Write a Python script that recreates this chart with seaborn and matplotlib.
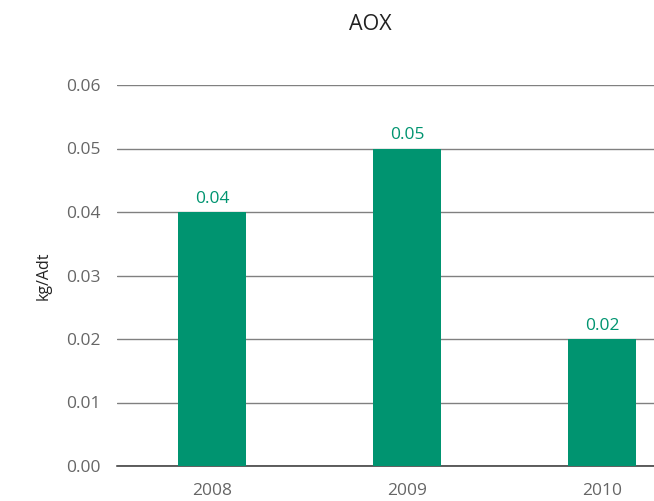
import matplotlib
matplotlib.use("Agg")
import matplotlib.pyplot as plt
import seaborn as sns
import pandas as pd

years = ["2008", "2009", "2010"]
aox = [0.04, 0.05, 0.02]
value_labels = ["0.04", "0.05", "0.02"]
y_ticks = [0.00, 0.01, 0.02, 0.03, 0.04, 0.05, 0.06]

green = "#009470"

sns.set_style("white")
plt.rcParams["font.family"] = ["Open Sans", "DejaVu Sans"]

df = pd.DataFrame({"year": years, "aox": aox})

fig = plt.figure(figsize=(6.54, 5.01), dpi=100)
ax = fig.add_axes([117 / 654, 1 - 466 / 501, (697 - 117) / 654, (466 - 85) / 501])

sns.barplot(data=df, x="year", y="aox", color=green, width=0.344,
            saturation=1, linewidth=0, ax=ax, zorder=3)

for p, lab in zip(ax.patches, value_labels):
    ax.text(p.get_x() + p.get_width() / 2, p.get_height() + 0.0008, lab,
            ha="center", va="bottom", color=green, fontsize=12.5)

ax.set_ylim(0, 0.06)
ax.set_xlim(-0.487, 2.487)
ax.set_yticks(y_ticks)
ax.set_yticklabels([f"{v:.2f}" for v in y_ticks])
ax.yaxis.grid(True, color="#808080", linewidth=1.0, zorder=0)
ax.set_axisbelow(True)
for s in ["top", "right", "left"]:
    ax.spines[s].set_visible(False)
ax.spines["bottom"].set_color("#333333")
ax.spines["bottom"].set_linewidth(1.1)
ax.tick_params(axis="both", length=0, labelsize=12.5, labelcolor="#666666")
ax.tick_params(axis="y", pad=12)
ax.tick_params(axis="x", pad=12)
ax.set_xlabel("")
ax.set_ylabel("kg/Adt", fontsize=11.5, color="#222222", labelpad=10)

fig.text(370 / 654, 1 - 25 / 501, "AOX", ha="center", va="center",
         fontsize=15.5, color="#222222")

fig.savefig("out.png", dpi=100)
